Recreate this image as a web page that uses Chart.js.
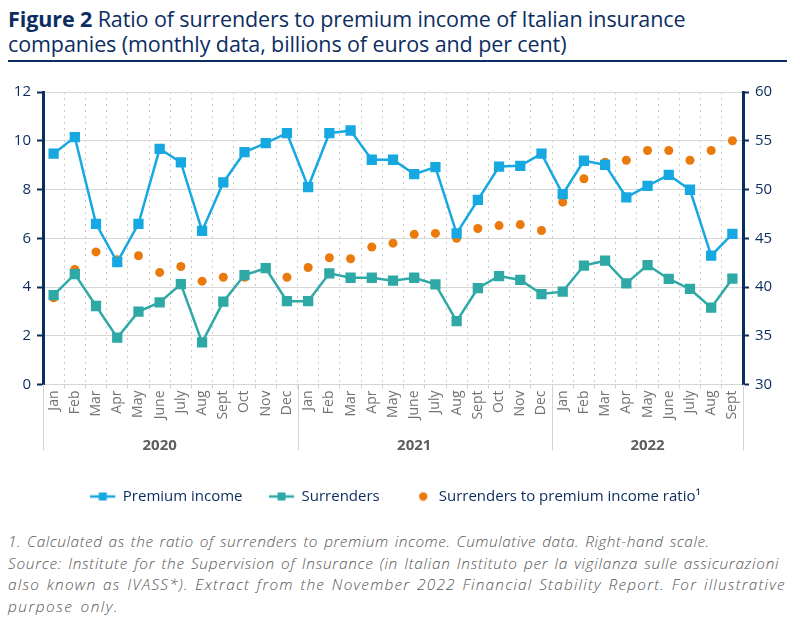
<!DOCTYPE html>
<html>
<head>
<meta charset="utf-8">
<script src="https://cdn.jsdelivr.net/npm/chart.js@4.4.0/dist/chart.umd.min.js"></script>
<style>
  html, body { margin: 0; padding: 0; background: #fff; width: 800px; height: 633px; overflow: hidden; }
  #title { position: absolute; left: 8px; top: 6px; width: 790px; font-family: "Open Sans", sans-serif; font-size: 21.5px; line-height: 25px; color: #0c2d62; font-weight: 400; letter-spacing: -0.1px; }
  #title b { font-weight: 700; }
  #rule { position: absolute; left: 8px; top: 60px; width: 779px; height: 2px; background: #0c2d62; }
  #wrap { position: absolute; left: 0; top: 68px; width: 800px; height: 452px; }
  #notes { position: absolute; left: 8px; top: 531px; width: 792px; font-family: "Open Sans", sans-serif; font-style: italic; font-weight: 300; font-size: 15.4px; line-height: 21.5px; color: #555; word-spacing: 1.5px; white-space: nowrap; }
  #notes p { margin: 0; }
  #notes span { display: block; }
</style>
</head>
<body>
<div id="title"><b>Figure 2</b> Ratio of surrenders to premium income of Italian insurance companies (monthly data, billions of euros and per cent)</div>
<div id="rule"></div>
<div id="wrap"><canvas id="c" width="800" height="452"></canvas></div>
<div id="notes">
  <p><span style="letter-spacing:0.54px">1. Calculated as the ratio of surrenders to premium income. Cumulative data. Right-hand scale.</span></p>
  <p><span style="letter-spacing:0.71px">Source: Institute for the Supervision of Insurance (in Italian Instituto per la vigilanza sulle assicurazioni</span><span style="letter-spacing:1.2px">also known as IVASS*). Extract from the November 2022 Financial Stability Report. For illustrative</span><span style="letter-spacing:1.5px">purpose only.</span></p>
</div>
<script>
const months = [
  'Jan','Feb','Mar','Apr','May','June','July','Aug','Sept','Oct','Nov','Dec',
  'Jan','Feb','Mar','Apr','May','June','July','Aug','Sept','Oct','Nov','Dec',
  'Jan','Feb','Mar','Apr','May','June','July','Aug','Sept'
];
const years = ['2020','2021','2022'];
const yearLabelIndex = [5, 17, 28];
const yearStartIndex = [0, 12, 24];

const premiumIncome = [
  9.47, 10.15, 6.59, 5.02, 6.59, 9.67, 9.11, 6.30, 8.29, 9.53, 9.90, 10.31,
  8.10, 10.31, 10.42, 9.22, 9.22, 8.63, 8.92, 6.20, 7.57, 8.94, 8.97, 9.47,
  7.81, 9.18, 9.01, 7.68, 8.15, 8.60, 7.99, 5.29, 6.18
];
const surrenders = [
  3.67, 4.53, 3.22, 1.92, 2.99, 3.37, 4.12, 1.73, 3.40, 4.49, 4.77, 3.42,
  3.42, 4.56, 4.38, 4.38, 4.26, 4.38, 4.11, 2.60, 3.95, 4.45, 4.29, 3.71,
  3.81, 4.88, 5.08, 4.15, 4.90, 4.33, 3.92, 3.15, 4.34
];
const ratio = [
  38.9, 41.8, 43.6, 42.8, 43.2, 41.5, 42.1, 40.6, 41.0, 41.0, 42.0, 41.0,
  42.0, 43.0, 42.9, 44.1, 44.5, 45.4, 45.5, 45.0, 46.0, 46.3, 46.4, 45.8,
  48.7, 51.1, 52.8, 53.0, 54.0, 54.0, 53.0, 54.0, 55.0
];
const seriesNames = ['Premium income', 'Surrenders', 'Surrenders to premium income ratio\u00B9'];

const NAVY = '#0b2c5e';
const BLUE = '#17a8e1';
const TEAL = '#2ea9a5';
const ORANGE = '#ea7a0b';
const FONT = '"Open Sans", sans-serif';

function lineIcon(color) {
  const c = document.createElement('canvas');
  c.width = 34; c.height = 10;
  const g = c.getContext('2d');
  g.strokeStyle = color; g.lineWidth = 2.5;
  g.beginPath(); g.moveTo(0, 5); g.lineTo(25, 5); g.stroke();
  g.fillStyle = color; g.fillRect(8.5, 1, 8, 8);
  return c;
}
function dotIcon(color) {
  const c = document.createElement('canvas');
  c.width = 26; c.height = 10;
  const g = c.getContext('2d');
  g.fillStyle = color;
  g.beginPath(); g.arc(13, 5, 4.2, 0, Math.PI * 2); g.fill();
  return c;
}
const legendIcons = [lineIcon(BLUE), lineIcon(TEAL), dotIcon(ORANGE)];

const yearSeparators = {
  id: 'yearSeparators',
  afterDraw(chart) {
    const x = chart.scales.x;
    const g = chart.ctx;
    const step = x.getPixelForValue(1) - x.getPixelForValue(0);
    const bounds = yearStartIndex.map(i => x.getPixelForValue(i) - step / 2);
    bounds.push(x.getPixelForValue(months.length - 1) + step / 2);
    g.save();
    g.strokeStyle = '#d3d3d3';
    g.lineWidth = 1;
    bounds.forEach(bx => {
      g.beginPath();
      g.moveTo(Math.round(bx) + 0.5, chart.chartArea.bottom);
      g.lineTo(Math.round(bx) + 0.5, chart.chartArea.bottom + 66);
      g.stroke();
    });
    g.restore();
  }
};

new Chart(document.getElementById('c'), {
  type: 'line',
  data: {
    labels: months,
    datasets: [
      { label: seriesNames[0], data: premiumIncome, yAxisID: 'y', xAxisID: 'x',
        borderColor: BLUE, backgroundColor: BLUE, borderWidth: 2.5,
        pointStyle: 'rect', pointRadius: 5.5, pointHoverRadius: 5.5, tension: 0 },
      { label: seriesNames[1], data: surrenders, yAxisID: 'y', xAxisID: 'x',
        borderColor: TEAL, backgroundColor: TEAL, borderWidth: 2.5,
        pointStyle: 'rect', pointRadius: 5.5, pointHoverRadius: 5.5, tension: 0 },
      { label: seriesNames[2], data: ratio, yAxisID: 'y1', xAxisID: 'x',
        borderColor: ORANGE, backgroundColor: ORANGE, showLine: false,
        pointStyle: 'circle', pointRadius: 4.5, pointBorderWidth: 0, pointHoverRadius: 4.5 }
    ]
  },
  options: {
    responsive: false,
    animation: false,
    events: [],
    layout: { padding: { top: 24, left: 0, right: 0, bottom: 6 } },
    scales: {
      x: {
        type: 'category', position: 'bottom', offset: true,
        grid: { offset: true, color: '#c9c9c9', lineWidth: 1, drawTicks: true, tickLength: 4, tickColor: '#d3d3d3', tickBorderDash: [] },
        border: { display: false, dash: [2, 4] },
        ticks: { autoSkip: false, maxRotation: 90, minRotation: 90, padding: 2, color: '#737373', font: { family: FONT, size: 14 } },
        afterFit(s) { s.height = 42; }
      },
      x2: {
        type: 'category', position: 'bottom', offset: true, labels: months,
        grid: { display: false, drawOnChartArea: false, drawTicks: false },
        border: { display: false },
        ticks: {
          autoSkip: false, maxRotation: 0, minRotation: 0, padding: 12,
          color: '#5e5e5e', font: { family: FONT, size: 15, weight: 'bold', lineHeight: 1 },
          callback(v, i) { const k = yearLabelIndex.indexOf(i); return k >= 0 ? years[k] : ''; }
        },
        afterFit(s) { s.height = 27; }
      },
      y: {
        position: 'left', min: 0, max: 12,
        ticks: { stepSize: 2, color: NAVY, padding: 6, font: { family: FONT, size: 15 } },
        grid: { color: '#d6d6d6', lineWidth: 1, tickColor: NAVY, tickLength: 6, tickWidth: 2 },
        border: { color: NAVY, width: 3 },
        afterFit(s) { s.width = 43; }
      },
      y1: {
        position: 'right', min: 30, max: 60,
        ticks: { stepSize: 5, color: NAVY, padding: 6, font: { family: FONT, size: 15 } },
        grid: { drawOnChartArea: false, tickColor: NAVY, tickLength: 6, tickWidth: 2 },
        border: { color: NAVY, width: 3 },
        afterFit(s) { s.width = 57; }
      }
    },
    plugins: {
      tooltip: { enabled: false },
      legend: {
        position: 'bottom',
        labels: {
          usePointStyle: true, pointStyleWidth: 16, boxHeight: 10,
          padding: 35.5, color: NAVY, font: { family: FONT, size: 15 },
          generateLabels(chart) {
            return Chart.defaults.plugins.legend.labels.generateLabels(chart)
              .map((l, i) => Object.assign(l, { pointStyle: legendIcons[i] }));
          }
        }
      }
    }
  },
  plugins: [yearSeparators]
});
</script>
</body>
</html>
